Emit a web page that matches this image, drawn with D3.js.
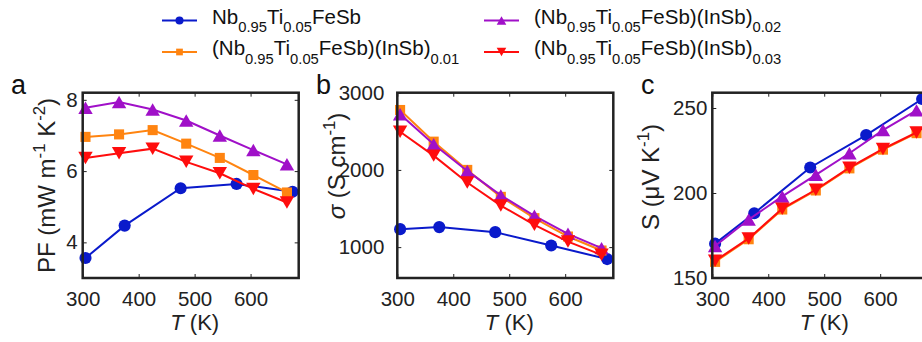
<!DOCTYPE html>
<html>
<head>
<meta charset="utf-8">
<script src="https://cdn.jsdelivr.net/npm/d3@7"></script>
<style>
  body { margin: 0; background: #fff; }
  svg { display: block; font-family: "Liberation Sans", Arial, sans-serif; }
  .tick line { stroke: #222; stroke-width: 1; }
  .tick text { font-size: 20.5px; fill: #222; }
</style>
</head>
<body>
<div class="chart_container"></div>
<script>
var width = 922
var height = 342

// temperatures (K)
var tempsBlue = [305, 375, 475, 575, 675]
var tempsInSb = [305, 365, 425, 485, 545, 605, 665]

// series names: [text, kind] pieces, kind 1 = subscript
var seriesNames = [
  [["Nb", 0], ["0.95", 1], ["Ti", 0], ["0.05", 1], ["FeSb", 0]],
  [["(Nb", 0], ["0.95", 1], ["Ti", 0], ["0.05", 1], ["FeSb)(InSb)", 0], ["0.01", 1]],
  [["(Nb", 0], ["0.95", 1], ["Ti", 0], ["0.05", 1], ["FeSb)(InSb)", 0], ["0.02", 1]],
  [["(Nb", 0], ["0.95", 1], ["Ti", 0], ["0.05", 1], ["FeSb)(InSb)", 0], ["0.03", 1]]
]
var seriesColors = ["#0a1acb", "#ff8410", "#a010c8", "#ff0d0d"]
var seriesMarkers = ["circle", "square", "up", "down"]

// panel a: power factor (mW m-1 K-2)
var pfBlue = [3.56, 4.47, 5.52, 5.64, 5.42]
var pfOrange = [6.96, 7.03, 7.15, 6.77, 6.37, 5.89, 5.40]
var pfPurple = [7.78, 7.94, 7.73, 7.42, 7.00, 6.59, 6.19]
var pfRed = [6.37, 6.50, 6.63, 6.26, 5.94, 5.50, 5.12]

// panel b: electrical conductivity (S cm-1)
var sigBlue = [1233, 1259, 1194, 1021, 845]
var sigOrange = [2776, 2366, 2000, 1651, 1375, 1137, 956]
var sigPurple = [2721, 2332, 1987, 1670, 1405, 1172, 987]
var sigRed = [2495, 2185, 1836, 1538, 1288, 1072, 900]

// panel c: Seebeck coefficient (uV K-1)
var seebBlue = [170.2, 188.1, 215.0, 234.1, 255.3]
var seebOrange = [159.5, 172.8, 190.3, 201.5, 214.5, 225.5, 235.2]
var seebPurple = [168.8, 184.4, 198.0, 210.7, 223.4, 237.0, 248.6]
var seebRed = [160.1, 173.3, 190.8, 201.9, 214.9, 225.9, 235.6]

var xTicks = [300, 400, 500, 600]

var panels = [
  { letter: "a", left: 82.7, yDomain: [3, 8.2], yTicks: [4, 6, 8], pad: 5,
    labelX: 55, labelY: 185.5, letterX: 11,
    label: [["PF (mW m", 0], ["-1", 2], [" K", 0], ["-2", 2], [")", 0]],
    series: [pfBlue, pfOrange, pfPurple, pfRed] },
  { letter: "b", left: 397.3, yDomain: [600, 3000], yTicks: [1000, 2000, 3000], pad: 13,
    labelX: 345, labelY: 166, letterX: 316,
    label: [["σ", 3], [" (S cm", 0], ["-1", 2], [")", 0]],
    series: [sigBlue, sigOrange, sigPurple, sigRed] },
  { letter: "c", left: 712.3, yDomain: [150, 259], yTicks: [150, 200, 250], pad: 5,
    labelX: 659, labelY: 177, letterX: 641,
    label: [["S (μV K", 0], ["-1", 2], [")", 0]],
    series: [seebBlue, seebOrange, seebPurple, seebRed] }
]

var plotTop = 92.7, plotBottom = 278, plotW = 216
var plain = d3.format("d")

var svg = d3.select(".chart_container").append("svg")
  .attr("width", width)
  .attr("height", height)

// writes pieces into a text element: 0 normal, 1 subscript, 2 superscript, 3 italic
function richText(sel, pieces, size) {
  var shift = 0
  pieces.forEach(function (p) {
    var t = sel.append("tspan").text(p[0])
    var target = 0
    if (p[1] === 1) { target = size * 0.42; t.style("font-size", (size * 0.72) + "px") }
    else if (p[1] === 2) { target = -size * 0.4; t.style("font-size", (size * 0.7) + "px") }
    else if (p[1] === 3) { t.style("font-style", "italic") }
    t.attr("dy", target - shift)
    shift = target
  })
}

function markerPath(type, s) {
  if (type === "circle") return d3.symbol(d3.symbolCircle, s * s * 0.8)()
  if (type === "square") { var h = s * 0.42; return "M" + -h + "," + -h + "H" + h + "V" + h + "H" + -h + "Z" }
  var a = s * 0.6, b = s * 0.52
  if (type === "up") return "M0," + -b + "L" + a + "," + b + "L" + -a + "," + b + "Z"
  return "M0," + b + "L" + a + "," + -b + "L" + -a + "," + -b + "Z"
}

panels.forEach(function (p) {
  var x = d3.scaleLinear().domain([300, 686]).range([p.left, p.left + plotW])
  var y = d3.scaleLinear().domain(p.yDomain).range([plotBottom, plotTop])
  var g = svg.append("g")

  g.append("g").attr("transform", "translate(0," + plotBottom + ")")
    .call(d3.axisBottom(x).tickValues(xTicks).tickFormat(plain).tickSizeInner(-4).tickSizeOuter(0).tickPadding(13))
  g.append("g").attr("transform", "translate(0," + plotTop + ")")
    .call(d3.axisTop(x).tickValues(xTicks).tickSizeInner(-4).tickSizeOuter(0).tickFormat(""))
  g.append("g").attr("transform", "translate(" + p.left + ",0)")
    .call(d3.axisLeft(y).tickValues(p.yTicks).tickFormat(plain).tickSizeInner(-4).tickSizeOuter(0).tickPadding(p.pad))
  g.append("g").attr("transform", "translate(" + (p.left + plotW) + ",0)")
    .call(d3.axisRight(y).tickValues(p.yTicks).tickSizeInner(-4).tickSizeOuter(0).tickFormat(""))
  g.selectAll(".domain").remove()

  var line = d3.line().x(function (d) { return x(d[0]) }).y(function (d) { return y(d[1]) })

  p.series.forEach(function (vals, i) {
    var temps = i === 0 ? tempsBlue : tempsInSb
    var pts = vals.map(function (v, j) { return [temps[j], v] })
    g.append("path").datum(pts)
      .attr("d", line)
      .attr("fill", "none")
      .attr("stroke", seriesColors[i])
      .attr("stroke-width", 2)
    g.selectAll(null).data(pts).enter().append("path")
      .attr("transform", function (d) { return "translate(" + x(d[0]) + "," + y(d[1]) + ")" })
      .attr("d", markerPath(seriesMarkers[i], 12))
      .attr("fill", seriesColors[i])
  })

  g.append("rect")
    .attr("x", p.left).attr("y", plotTop)
    .attr("width", plotW).attr("height", plotBottom - plotTop)
    .attr("fill", "none").attr("stroke", "#222").attr("stroke-width", 2.5)

  // axis labels
  var xl = g.append("text")
    .attr("x", p.left + plotW / 2 + 4).attr("y", 330)
    .attr("text-anchor", "middle").style("font-size", "22px").attr("fill", "#222")
  richText(xl, [["T", 3], [" (K)", 0]], 22)

  var yl = g.append("text")
    .attr("transform", "translate(" + p.labelX + "," + p.labelY + ") rotate(-90)")
    .attr("text-anchor", "middle").style("font-size", "24px").attr("fill", "#222")
  richText(yl, p.label, 24)

  g.append("text")
    .attr("x", p.letterX).attr("y", 94)
    .style("font-size", "27px").attr("fill", "#111")
    .text(p.letter)
})

// legend
var legendCols = [162, 484]
var legendRows = [20.5, 52]
seriesNames.forEach(function (name, i) {
  var lx = legendCols[Math.floor(i / 2)]
  var ly = legendRows[i % 2]
  var lg = svg.append("g")
  lg.append("line")
    .attr("x1", lx).attr("x2", lx + 35).attr("y1", ly).attr("y2", ly)
    .attr("stroke", seriesColors[i]).attr("stroke-width", 2)
  lg.append("path")
    .attr("transform", "translate(" + (lx + 17.5) + "," + ly + ")")
    .attr("d", markerPath(seriesMarkers[i], 8))
    .attr("fill", seriesColors[i])
  var t = lg.append("text")
    .attr("x", lx + 50).attr("y", ly + 3)
    .style("font-size", "20.5px").attr("fill", "#111")
  richText(t, name, 20.5)
})
</script>
</body>
</html>
